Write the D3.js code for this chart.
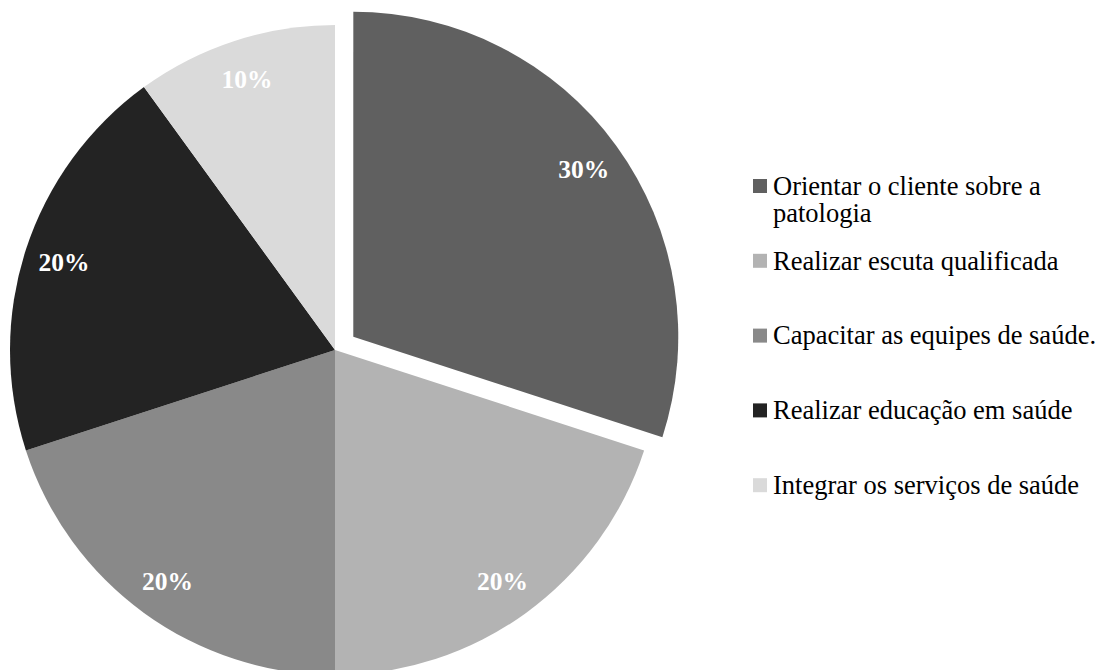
<!DOCTYPE html>
<html>
<head>
<meta charset="utf-8">
<script src="https://cdn.jsdelivr.net/npm/d3@7"></script>
<style>
  html, body { margin: 0; padding: 0; background: #ffffff; }
  svg { display: block; }
</style>
</head>
<body>
<svg id="chart" width="1103" height="670"></svg>
<script>
// Data
const categories = [
  "Orientar o cliente sobre a patologia",
  "Realizar escuta qualificada",
  "Capacitar as equipes de saúde.",
  "Realizar educação em saúde",
  "Integrar os serviços de saúde"
];
const legendLines = [
  ["Orientar o cliente sobre a", "patologia"],
  ["Realizar escuta qualificada"],
  ["Capacitar as equipes de saúde."],
  ["Realizar educação em saúde"],
  ["Integrar os serviços de saúde"]
];
const values = [30, 20, 20, 20, 10];
const valueLabels = ["30%", "20%", "20%", "20%", "10%"];
const colors = ["#606060", "#b3b3b3", "#898989", "#232323", "#dadada"];
const explodedIndex = 0;

// Layout
const cx = 335, cy = 350, R = 325;
const explodeDist = 22.6;
const labelR = 285;

const svg = d3.select("#chart");
const g = svg.append("g").attr("transform", `translate(${cx},${cy})`);

const pie = d3.pie().value(d => d).sort(null).startAngle(0).endAngle(2 * Math.PI);
const arcs = pie(values);
const arc = d3.arc().innerRadius(0).outerRadius(R);
const labelArc = d3.arc().innerRadius(labelR).outerRadius(labelR);

function offset(d, i) {
  if (i !== explodedIndex) return [0, 0];
  const mid = (d.startAngle + d.endAngle) / 2;
  return [Math.sin(mid) * explodeDist, -Math.cos(mid) * explodeDist];
}

const slices = g.selectAll("g.slice").data(arcs).enter().append("g")
  .attr("class", "slice")
  .attr("transform", (d, i) => { const o = offset(d, i); return `translate(${o[0]},${o[1]})`; });

slices.append("path")
  .attr("d", arc)
  .attr("fill", (d, i) => colors[i]);

slices.append("text")
  .attr("transform", d => `translate(${labelArc.centroid(d)})`)
  .attr("text-anchor", "middle")
  .attr("dy", "0.35em")
  .attr("font-family", "'Liberation Serif', 'Times New Roman', serif")
  .attr("font-weight", "bold")
  .attr("font-size", "25.5px")
  .attr("fill", "#ffffff")
  .text((d, i) => valueLabels[i]);

// Legend
const legendX = 753, legendTextX = 773, legendY0 = 186, legendStep = 74.8, sq = 14, lineH = 27;
const legend = svg.append("g");
const items = legend.selectAll("g.item").data(categories).enter().append("g")
  .attr("class", "item")
  .attr("transform", (d, i) => `translate(0,${legendY0 + i * legendStep})`);

items.append("rect")
  .attr("x", legendX)
  .attr("y", -sq / 2)
  .attr("width", sq)
  .attr("height", sq)
  .attr("fill", (d, i) => colors[i]);

items.append("text")
  .attr("x", legendTextX)
  .attr("y", 0)
  .attr("font-family", "'Liberation Serif', 'Times New Roman', serif")
  .attr("font-size", "26.5px")
  .attr("fill", "#000000")
  .each(function(d, i) {
    const t = d3.select(this);
    legendLines[i].forEach((line, j) => {
      t.append("tspan")
        .attr("x", legendTextX)
        .attr("y", j * lineH)
        .attr("dy", "0.33em")
        .text(line);
    });
  });
</script>
</body>
</html>
